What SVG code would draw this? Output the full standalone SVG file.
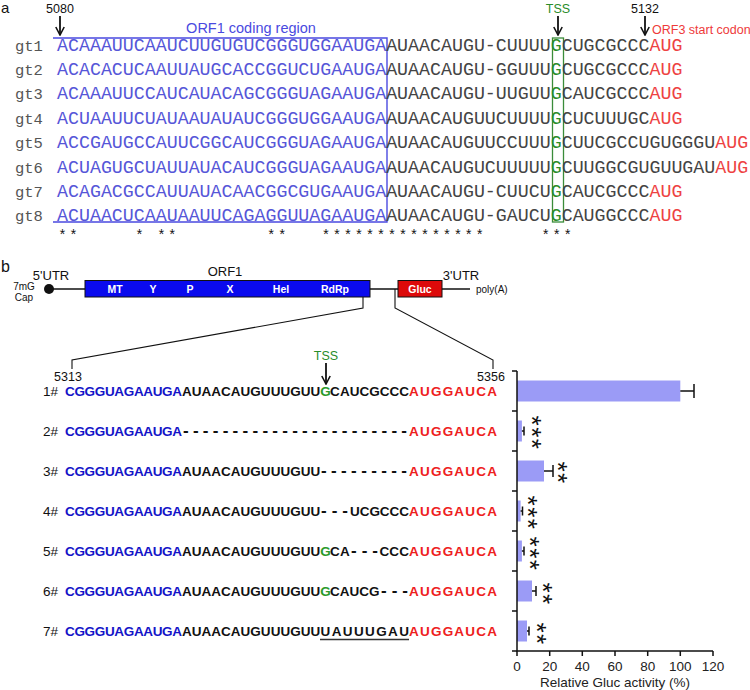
<svg xmlns="http://www.w3.org/2000/svg" width="750" height="690" viewBox="0 0 750 690">
<style>
.sans{font-family:"Liberation Sans",Arial,sans-serif}
.mono{font-family:"Liberation Mono","Courier New",monospace}
.seq{font-family:"Liberation Mono","Courier New",monospace;font-size:18.3px;fill:#444}
.gt{font-family:"Liberation Mono","Courier New",monospace;font-size:15.5px;fill:#555}
.bl{fill:#5656d8}.rd{fill:#ee4242}.gr{fill:#2a8c2a}
.bseq{font-family:"Liberation Sans",Arial,sans-serif;font-size:13.5px;font-weight:bold;fill:#111}
.dash{font-family:"Liberation Sans",Arial,sans-serif;font-size:17px;font-weight:bold;fill:#111}
.bb{fill:#1414c8}.br{fill:#ee2020}.bg{fill:#2a9a2a}
.lab{font-family:"Liberation Sans",Arial,sans-serif;font-size:13.5px;fill:#111}
.num{font-family:"Liberation Sans",Arial,sans-serif;font-size:12.5px;fill:#111}
.arr{stroke:#111;stroke-width:1.8;fill:none;marker-end:url(#chev)}
.bar{fill:#9b9bf6}
.err{stroke:#111;stroke-width:1.5;fill:none}
.star{font-family:"Liberation Sans",Arial,sans-serif;font-size:26px;fill:#111;text-anchor:middle;writing-mode:vertical-rl;letter-spacing:1.5px}
</style>
<defs>
<marker id="chev" viewBox="0 0 10 10" refX="9" refY="5" markerWidth="10" markerHeight="10" markerUnits="userSpaceOnUse" orient="auto">
<path d="M1,0.8 L9,5 L1,9.2" fill="none" stroke="#111" stroke-width="1.6"/>
</marker>
</defs>

<g id="panel-a">
<text class="sans" x="1" y="13" font-size="15" fill="#111">a</text>
<text class="num" x="60" y="13" text-anchor="middle">5080</text>
<text class="num" x="558" y="13" text-anchor="middle" style="fill:#2a8c2a">TSS</text>
<text class="num" x="645" y="13" text-anchor="middle">5132</text>
<text class="sans" x="251" y="33" font-size="14.5" text-anchor="middle" fill="#4a4ae0">ORF1 coding region</text>
<text class="sans" x="652" y="34" font-size="12.5" fill="#ee3a3a">ORF3 start codon</text>

<g id="boxes-a">
<path d="M53,38 H387 V222 H53" fill="none" stroke="#4a4ae0" stroke-width="1.4"/>
<rect x="552.5" y="38" width="11" height="184" fill="none" stroke="#3a8c3a" stroke-width="1.3"/>
</g>

<g id="rows-a">
<text class="gt" x="15" y="50.5">gt1</text>
<text class="seq" x="57" y="50.5"><tspan class="bl">ACAAAUUCAAUCUUGUGUCGGGUGGAAUGA</tspan>AUAACAUGU-CUUUU<tspan class="gr">G</tspan>CUGCGCCC<tspan class="rd">AUG</tspan></text>
<text class="gt" x="15" y="74.9">gt2</text>
<text class="seq" x="57" y="74.9"><tspan class="bl">ACACACUCAAUUAUGCACCGGUCUGAAUGA</tspan>AUAACAUGU-GGUUU<tspan class="gr">G</tspan>CUGCGCCC<tspan class="rd">AUG</tspan></text>
<text class="gt" x="15" y="99.3">gt3</text>
<text class="seq" x="57" y="99.3"><tspan class="bl">ACAAAUUCCAUCAUACAGCGGGUAGAAUGA</tspan>AUAACAUGU-UUGUU<tspan class="gr">G</tspan>CAUCGCCC<tspan class="rd">AUG</tspan></text>
<text class="gt" x="15" y="123.7">gt4</text>
<text class="seq" x="57" y="123.7"><tspan class="bl">ACUAAUUCUAUAAUAUAUCGGGUGGAAUGA</tspan>AUAACAUGUUCUUUU<tspan class="gr">G</tspan>CUCUUUGC<tspan class="rd">AUG</tspan></text>
<text class="gt" x="15" y="148.1">gt5</text>
<text class="seq" x="57" y="148.1"><tspan class="bl">ACCGAUGCCAUUCGGCAUCGGGUAGAAUGA</tspan>AUAACAUGUUCCUUU<tspan class="gr">G</tspan>CUUCGCCUGUGGGU<tspan class="rd">AUG</tspan></text>
<text class="gt" x="15" y="172.5">gt6</text>
<text class="seq" x="57" y="172.5"><tspan class="bl">ACUAGUGCUAUUAUACAUCGGGUAGAAUGA</tspan>AUAACAUGUCUUUUU<tspan class="gr">G</tspan>CUUGGCGUGUUGAU<tspan class="rd">AUG</tspan></text>
<text class="gt" x="15" y="196.9">gt7</text>
<text class="seq" x="57" y="196.9"><tspan class="bl">ACAGACGCCAUUAUACAACGGCGUGAAUGA</tspan>AUAACAUGU-CUUCU<tspan class="gr">G</tspan>CAUCGCCC<tspan class="rd">AUG</tspan></text>
<text class="gt" x="15" y="221.3">gt8</text>
<text class="seq" x="57" y="221.3"><tspan class="bl">ACUAACUCAAUAAUUCAGAGGUUAGAAUGA</tspan>AUAACAUGU-GAUCU<tspan class="gr">G</tspan>CAUGGCCC<tspan class="rd">AUG</tspan></text>
<text x="58.3" y="240" xml:space="preserve" style="white-space:pre;font-family:'Liberation Mono','Courier New',monospace;font-size:14px;letter-spacing:2.58px;fill:#111">**     * **        **   ***************     ***</text>
</g>

<g id="arrows-a">
<path class="arr" d="M60,16 V35"/>
<path class="arr" d="M558,16 V35"/>
<path class="arr" d="M645,16 V35"/>
</g>
</g>

<g id="panel-b">
<text class="sans" x="1" y="272" font-size="16" fill="#111">b</text>

<g id="genome">
<line x1="49" y1="289" x2="470" y2="289" stroke="#111" stroke-width="1.6"/>
<circle cx="49" cy="289" r="5" fill="#111"/>
<rect x="85" y="280.5" width="285" height="16.5" fill="#0a0aee" stroke="#111" stroke-width="1"/>
<rect x="398" y="280.5" width="44" height="16.5" fill="#dd0a0a" stroke="#111" stroke-width="1"/>
<g class="sans" font-size="10.5" font-weight="bold" fill="#fff" text-anchor="middle">
<text x="115" y="293">MT</text>
<text x="153" y="293">Y</text>
<text x="190" y="293">P</text>
<text x="230" y="293">X</text>
<text x="281" y="293">Hel</text>
<text x="335" y="293">RdRp</text>
<text x="420" y="293">Gluc</text>
</g>
<text class="sans" x="51" y="280" font-size="13" text-anchor="middle" fill="#111">5'UTR</text>
<text class="sans" x="225" y="276" font-size="13" text-anchor="middle" fill="#111">ORF1</text>
<text class="sans" x="461" y="280" font-size="13" text-anchor="middle" fill="#111">3'UTR</text>
<text class="sans" x="24" y="290" font-size="10" text-anchor="middle" fill="#111">7mG</text>
<text class="sans" x="24" y="301" font-size="10" text-anchor="middle" fill="#111">Cap</text>
<text class="sans" x="476" y="293" font-size="10" fill="#111">poly(A)</text>
</g>

<g id="zoom-lines">
<path d="M363,297 V308 L72,360 V369" fill="none" stroke="#111" stroke-width="1.1"/>
<path d="M395,289 V308 L493,360 V369" fill="none" stroke="#111" stroke-width="1.1"/>
</g>

<text class="num" x="68" y="380.5" text-anchor="middle">5313</text>
<text class="num" x="491" y="380.5" text-anchor="middle">5356</text>
<text class="num" x="326" y="360" text-anchor="middle" style="fill:#2a8c2a">TSS</text>
<path class="arr" d="M326,363 V384"/>

<g id="rows-b">
<text class="lab" x="43" y="396">1#</text>
<text class="bseq bb" x="65" y="396" textLength="117" lengthAdjust="spacing">CGGGUAGAAUGA</text>
<text class="bseq" x="182" y="396" textLength="138.2" lengthAdjust="spacing">AUAACAUGUUUGUU</text>
<text class="bseq bg" x="320.2" y="396">G</text>
<text class="bseq" x="330.1" y="396" textLength="79" lengthAdjust="spacing">CAUCGCCC</text>
<text class="bseq br" x="409" y="396" textLength="88" lengthAdjust="spacing">AUGGAUCA</text>

<text class="lab" x="43" y="436">2#</text>
<text class="bseq bb" x="65" y="436" textLength="117" lengthAdjust="spacing">CGGGUAGAAUGA</text>
<text class="dash" x="183" y="436" textLength="224" lengthAdjust="spacing">-----------------------</text>
<text class="bseq br" x="409" y="436" textLength="88" lengthAdjust="spacing">AUGGAUCA</text>

<text class="lab" x="43" y="476">3#</text>
<text class="bseq bb" x="65" y="476" textLength="117" lengthAdjust="spacing">CGGGUAGAAUGA</text>
<text class="bseq" x="182" y="476" textLength="138.2" lengthAdjust="spacing">AUAACAUGUUUGUU</text>
<text class="dash" x="321" y="476" textLength="86" lengthAdjust="spacing">---------</text>
<text class="bseq br" x="409" y="476" textLength="88" lengthAdjust="spacing">AUGGAUCA</text>

<text class="lab" x="43" y="516">4#</text>
<text class="bseq bb" x="65" y="516" textLength="117" lengthAdjust="spacing">CGGGUAGAAUGA</text>
<text class="bseq" x="182" y="516" textLength="138.2" lengthAdjust="spacing">AUAACAUGUUUGUU</text>
<text class="dash" x="321" y="516" textLength="27" lengthAdjust="spacing">---</text>
<text class="bseq" x="350" y="516" textLength="59" lengthAdjust="spacing">UCGCCC</text>
<text class="bseq br" x="409" y="516" textLength="88" lengthAdjust="spacing">AUGGAUCA</text>

<text class="lab" x="43" y="556">5#</text>
<text class="bseq bb" x="65" y="556" textLength="117" lengthAdjust="spacing">CGGGUAGAAUGA</text>
<text class="bseq" x="182" y="556" textLength="138.2" lengthAdjust="spacing">AUAACAUGUUUGUU</text>
<text class="bseq bg" x="320.2" y="556">G</text>
<text class="bseq" x="330.1" y="556" textLength="19.7" lengthAdjust="spacing">CA</text>
<text class="dash" x="351" y="556" textLength="27" lengthAdjust="spacing">---</text>
<text class="bseq" x="379.4" y="556" textLength="29.6" lengthAdjust="spacing">CCC</text>
<text class="bseq br" x="409" y="556" textLength="88" lengthAdjust="spacing">AUGGAUCA</text>

<text class="lab" x="43" y="596">6#</text>
<text class="bseq bb" x="65" y="596" textLength="117" lengthAdjust="spacing">CGGGUAGAAUGA</text>
<text class="bseq" x="182" y="596" textLength="138.2" lengthAdjust="spacing">AUAACAUGUUUGUU</text>
<text class="bseq bg" x="320.2" y="596">G</text>
<text class="bseq" x="330.1" y="596" textLength="49.3" lengthAdjust="spacing">CAUCG</text>
<text class="dash" x="381" y="596" textLength="27" lengthAdjust="spacing">---</text>
<text class="bseq br" x="409" y="596" textLength="88" lengthAdjust="spacing">AUGGAUCA</text>

<text class="lab" x="43" y="636">7#</text>
<text class="bseq bb" x="65" y="636" textLength="117" lengthAdjust="spacing">CGGGUAGAAUGA</text>
<text class="bseq" x="182" y="636" textLength="138.2" lengthAdjust="spacing">AUAACAUGUUUGUU</text>
<text class="bseq" x="320.5" y="636" textLength="88.5" lengthAdjust="spacing">UAUUUGAU</text>
<line x1="320" y1="639.5" x2="409" y2="639.5" stroke="#333" stroke-width="1.4"/>
<text class="bseq br" x="409" y="636" textLength="88" lengthAdjust="spacing">AUGGAUCA</text>
</g>

<g id="chart">
<g id="bars">
<rect class="bar" x="517" y="380.5" width="163.3" height="21"/>
<rect class="bar" x="517" y="420.5" width="4.9" height="21"/>
<rect class="bar" x="517" y="460.5" width="27" height="21"/>
<rect class="bar" x="517" y="500.5" width="3.6" height="21"/>
<rect class="bar" x="517" y="540.5" width="4.9" height="21"/>
<rect class="bar" x="517" y="580.5" width="15" height="21"/>
<rect class="bar" x="517" y="620.5" width="10" height="21"/>
</g>
<g id="errors" class="err">
<path d="M680.3,391 H694 M694,384 V398"/>
<path d="M521.9,431 H524 M524,426.5 V435.5"/>
<path d="M544,471 H553 M553,465 V477"/>
<path d="M520.6,511 H522.5 M522.5,506.5 V515.5"/>
<path d="M521.9,551 H524 M524,546.5 V555.5"/>
<path d="M532,591 H536 M536,586 V596"/>
<path d="M527,631 H529 M529,626.5 V635.5"/>
</g>
<g id="axes" stroke="#111" stroke-width="1.5" fill="none">
<path d="M517,371 V651 H713"/>
<path d="M512,371 H517 M512,411 H517 M512,451 H517 M512,491 H517 M512,531 H517 M512,571 H517 M512,611 H517 M512,651 H517"/>
<path d="M517,651 V656 M549.7,651 V656 M582.3,651 V656 M615,651 V656 M647.7,651 V656 M680.3,651 V656 M713,651 V656"/>
</g>
<g class="sans" font-size="13.5" fill="#222" text-anchor="middle">
<text x="517" y="671">0</text>
<text x="549.7" y="671">20</text>
<text x="582.3" y="671">40</text>
<text x="615" y="671">60</text>
<text x="647.7" y="671">80</text>
<text x="680.3" y="671">100</text>
<text x="713" y="671">120</text>
<text x="615" y="687">Relative Gluc activity (%)</text>
</g>
<g id="stars-b">
<text class="star" x="532" y="433">***</text>
<text class="star" x="558" y="473">**</text>
<text class="star" x="528" y="513">***</text>
<text class="star" x="530" y="554">***</text>
<text class="star" x="543" y="594">**</text>
<text class="star" x="537" y="634">**</text>
</g>
</g>
</g>
</svg>
